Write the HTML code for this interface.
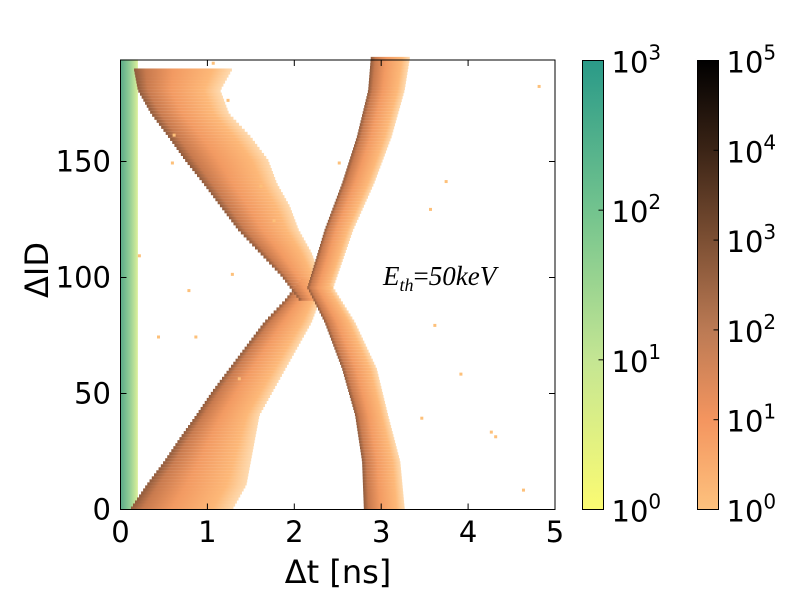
<!DOCTYPE html>
<html><head><meta charset="utf-8"><style>
body{margin:0;background:#fff}
svg text{font-family:"DejaVu Sans","Liberation Sans",sans-serif;fill:#000}
</style></head><body>
<svg id="chart" width="800" height="600" viewBox="0 0 800 600" xmlns="http://www.w3.org/2000/svg">
<defs>
<linearGradient id="gBand" x1="0" y1="0" x2="1" y2="0">
<stop offset="0" stop-color="#8e5a3c"/><stop offset="0.12" stop-color="#c87a4e"/><stop offset="0.4" stop-color="#f29a62"/><stop offset="0.8" stop-color="#fdb878"/><stop offset="1" stop-color="#fdc27c" stop-opacity="0.6"/></linearGradient>
<linearGradient id="gGreen" x1="0" y1="0" x2="1" y2="0">
<stop offset="0" stop-color="#5aab88"/><stop offset="0.5" stop-color="#8fcc95"/><stop offset="1" stop-color="#dcef9a"/></linearGradient>
<linearGradient id="gCb1" x1="0" y1="1" x2="0" y2="0">
<stop offset="0" stop-color="#fbfb72"/><stop offset="0.33" stop-color="#c5e693"/><stop offset="0.66" stop-color="#74c48e"/><stop offset="1" stop-color="#2a9a88"/></linearGradient>
<linearGradient id="gCb2" x1="0" y1="1" x2="0" y2="0">
<stop offset="0" stop-color="#fdc27e"/><stop offset="0.2" stop-color="#f4955f"/><stop offset="0.4" stop-color="#bb7a54"/><stop offset="0.6" stop-color="#7c4f33"/><stop offset="0.8" stop-color="#3b2416"/><stop offset="1" stop-color="#000"/></linearGradient>
</defs>
<g id="marks"></g>
<rect x="120.5" y="60" width="434.5" height="449.5" fill="none" stroke="#000" stroke-width="1"/>
<g id="ticks"></g>
<text x="338" y="583" font-size="32" text-anchor="middle">Δt [ns]</text>
<text transform="translate(48,270) rotate(-90)" font-size="32" text-anchor="middle">ΔID</text>
<text x="383" y="285" font-size="27" font-style="italic" style="font-family:'Liberation Serif',serif">E<tspan font-size="18" dy="6">th</tspan><tspan dy="-6" font-style="normal">=</tspan>50keV</text>
<rect x="582.5" y="60.5" width="21" height="449" fill="url(#gCb1)" stroke="#000"/>
<rect x="697.5" y="60.5" width="21" height="449" fill="url(#gCb2)" stroke="#000"/>
<g id="cbticks"></g>
</svg>
<script>
const ids = [0,10,20,30,40,50,60,70,80,90,100];
const bandALeft = [0.12,0.3,0.5,0.68,0.87,1.05,1.25,1.45,1.65,1.9,2.1];
const bandARight = [1.3,1.45,1.5,1.55,1.6,1.75,1.9,2.05,2.2,2.3,2.4];
const idsB = [90,100,110,120,130,140,150,160,170,180,190];
const bandBLeft = [2.05,1.85,1.6,1.35,1.15,0.95,0.74,0.55,0.35,0.2,0.15];
const bandBRight = [2.4,2.3,2.2,2.05,1.95,1.8,1.7,1.5,1.25,1.15,1.3];
const idsC = [0,20,40,60,80,95];
const bandCLeft = [2.8,2.78,2.7,2.55,2.35,2.15];
const bandCRight = [3.27,3.22,3.08,2.95,2.7,2.45];
const idsD = [95,120,140,160,180,194];
const bandDLeft = [2.15,2.35,2.55,2.72,2.85,2.88];
const bandDRight = [2.45,2.68,2.92,3.12,3.27,3.33];
const strayT = [0.58,0.6,0.77,1.27,1.22,3.73,4.8,3.9,4.25,4.3,4.62,0.85,0.42,1.35,1.6,1.75,3.45,3.55,2.5,0.2,3.6,1.05];
const strayID = [150,162,95,102,177,142,183,59,34,32,9,75,75,57,140,125,40,130,150,110,80,193];
const xTicks = [0,1,2,3,4,5];
const yTicks = [0,50,100,150];
const cb1Labels = ['0','1','2','3'];
const cb2Labels = ['0','1','2','3','4','5'];
const xs = t => 120.5 + t*86.9;
const ys = v => 509.5 - v*2.32;
const NS='http://www.w3.org/2000/svg';
const marks=document.getElementById('marks');
function interp(xa,va,y){for(let i=0;i<xa.length-1;i++){if(y>=xa[i]&&y<=xa[i+1]){const f=(y-xa[i])/(xa[i+1]-xa[i]);return va[i]+f*(va[i+1]-va[i]);}}return y<xa[0]?va[0]:va[va.length-1];}
const g=document.createElementNS(NS,'rect');


g.setAttribute('x',xs(0));g.setAttribute('y',ys(194));g.setAttribute('width',xs(0.2)-xs(0));g.setAttribute('height',ys(0)-ys(194));
g.setAttribute('fill','url(#gGreen)');marks.appendChild(g);
function band(name,ia,la,ra){
  const lo=ia[0],hi=ia[ia.length-1];
  for(let v=lo;v<hi;v+=1.3){
    const l=interp(ia,la,v), r=interp(ia,ra,v);
    const el=document.createElementNS(NS,'rect');
    
    
    el.setAttribute('x',xs(l));el.setAttribute('width',Math.max(2,xs(r)-xs(l)));
    el.setAttribute('y',ys(v+1.3));el.setAttribute('height',3.1);
    el.setAttribute('fill','url(#gBand)');
    marks.appendChild(el);
  }
}
band('band-lower-left',ids,bandALeft,bandARight);
band('band-upper-left',idsB,bandBLeft,bandBRight);
band('band-lower-right',idsC,bandCLeft,bandCRight);
band('band-upper-right',idsD,bandDLeft,bandDRight);
strayT.forEach((t,i)=>{const c=document.createElementNS(NS,'rect');


c.setAttribute('x',xs(t));c.setAttribute('y',ys(strayID[i]));c.setAttribute('width',3);c.setAttribute('height',3);c.setAttribute('fill','#fdc07a');marks.appendChild(c);});
const tk=document.getElementById('ticks');
xTicks.forEach(t=>{const x=xs(t);
const l=document.createElementNS(NS,'path');l.setAttribute('d',`M${x} 509.5v-6M${x} 60v6`);l.setAttribute('stroke','#000');


tk.appendChild(l);
const tx=document.createElementNS(NS,'text');tx.setAttribute('x',x);tx.setAttribute('y',542);tx.setAttribute('font-size','29');tx.setAttribute('text-anchor','middle');tx.textContent=t;


tk.appendChild(tx);});
yTicks.forEach(v=>{const y=ys(v);
const l=document.createElementNS(NS,'path');l.setAttribute('d',`M120.5 ${y}h6M555 ${y}h-6`);l.setAttribute('stroke','#000');


tk.appendChild(l);
const tx=document.createElementNS(NS,'text');tx.setAttribute('x',111);tx.setAttribute('y',y+10);tx.setAttribute('font-size','29');tx.setAttribute('text-anchor','end');tx.textContent=v;


tk.appendChild(tx);});
const cbt=document.getElementById('cbticks');
function cbLabels(arr,x0,name){const n=arr.length-1;arr.forEach((e,i)=>{const y=509.5-i*449/n;
const l=document.createElementNS(NS,'path');l.setAttribute('d',`M${x0+21} ${y}h-5`);l.setAttribute('stroke','#000');


cbt.appendChild(l);
const tx=document.createElementNS(NS,'text');tx.setAttribute('x',x0+29);tx.setAttribute('y',y+12);tx.setAttribute('font-size','29');
tx.innerHTML='10<tspan font-size="20" dy="-13">'+e+'</tspan>';


cbt.appendChild(tx);});}
cbLabels(cb1Labels,582.5,'colorbar-green');
cbLabels(cb2Labels,697.5,'colorbar-copper');
</script>
</body></html>
